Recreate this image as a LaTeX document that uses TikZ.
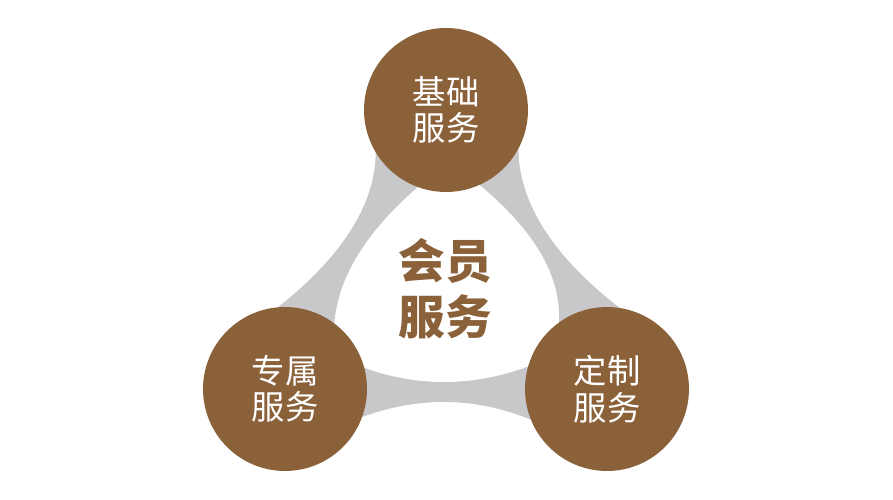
\documentclass[tikz,border=0pt]{standalone}
\usepackage{fontspec}
\newfontfamily\cjk{Noto Sans CJK SC}
\usetikzlibrary{calc}
\pgfdeclarelayer{bg}
\pgfsetlayers{bg,main}
\definecolor{brownc}{RGB}{139,97,58}
\definecolor{grayc}{RGB}{200,200,202}
\tikzset{
  svc/.style={circle, fill=brownc, minimum size=3.28cm, inner sep=0pt, outer sep=0pt,
    text=white, align=center, font=\cjk\fontsize{19pt}{20.8pt}\selectfont},
  hub/.style={text=brownc, align=center, inner sep=0pt,
    font=\cjk\bfseries\fontsize{26.5pt}{32pt}\selectfont},
  band/.style={fill=grayc},
  hole/.style={fill=white}
}
\begin{document}
\begin{tikzpicture}[x=0.02cm,y=0.02cm]
\useasboundingbox (0,0) rectangle (893,500);
\node[svc] (T) at (446,390) {基础\\服务};
\node[svc] (L) at (285,111) {专属\\服务};
\node[svc] (R) at (607,111) {定制\\服务};
\node[hub] (C) at (445,211) {会员\\服务};
\begin{pgfonlayer}{bg}
  \fill[white] (0,0) rectangle (893,500);
  % outer mid points
  \coordinate (ml) at (351,270);
  \coordinate (mr) at (544,271);
  \coordinate (mb) at (447,98);
  % inner mid points
  \coordinate (il) at (358,245);
  \coordinate (ir) at (541,246);
  \coordinate (ib) at (446,118);
  \fill[band] (T.center) -- (T.211)
     .. controls ($4/3*(ml)-1/3*(L.95)$) and ($4/3*(ml)-1/3*(T.211)$) .. (L.95)
     -- (L.center) -- (L.340)
     .. controls ($4/3*(mb)-1/3*(R.202)$) and ($4/3*(mb)-1/3*(L.340)$) .. (R.202)
     -- (R.center) -- (R.81)
     .. controls ($4/3*(mr)-1/3*(T.332)$) and ($4/3*(mr)-1/3*(R.81)$) .. (T.332)
     -- cycle;
  \fill[hole] (T.250)
     .. controls ($4/3*(il)-1/3*(L.53)$) and ($4/3*(il)-1/3*(T.250)$) .. (L.53)
     -- (L.15)
     .. controls ($4/3*(ib)-1/3*(R.164)$) and ($4/3*(ib)-1/3*(L.15)$) .. (R.164)
     -- (R.126)
     .. controls ($4/3*(ir)-1/3*(T.294)$) and ($4/3*(ir)-1/3*(R.126)$) .. (T.294)
     -- cycle;
\end{pgfonlayer}
\end{tikzpicture}
\end{document}
